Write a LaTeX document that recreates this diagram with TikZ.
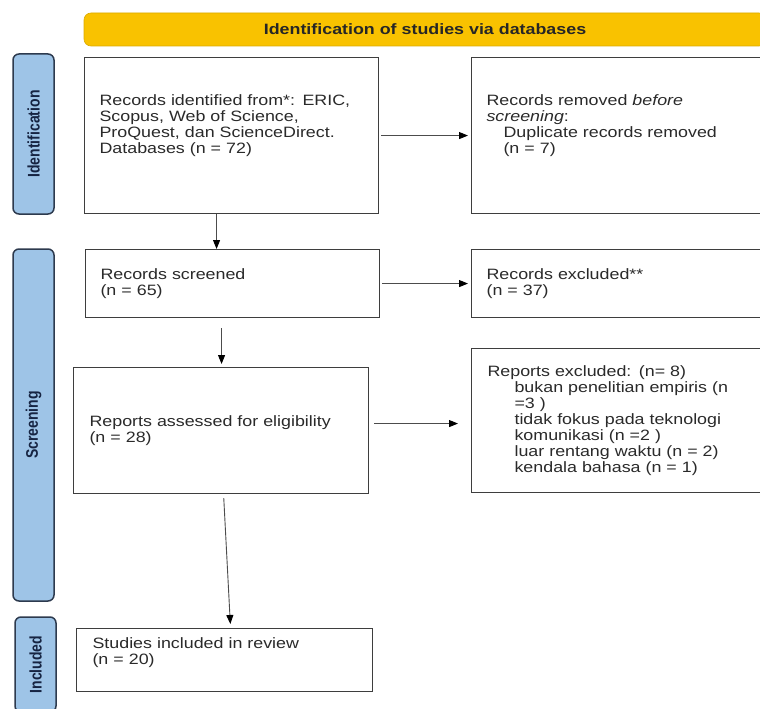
\documentclass[tikz,border=0pt]{standalone}
\usepackage{fontspec}
\newfontfamily\prismafont[FakeStretch=1.19]{Liberation Sans}
\newfontfamily\sidefont{Liberation Sans}
\usetikzlibrary{arrows.meta,
                positioning
            }
\definecolor{bannerfill}{RGB}{249,194,0}
\definecolor{sidefill}{RGB}{158,196,231}
\definecolor{sideline}{RGB}{45,58,78}
\definecolor{boxline}{RGB}{62,62,62}
\definecolor{bodytext}{RGB}{42,42,42}
\definecolor{sidetext}{RGB}{22,36,66}

\newcommand{\phaselabel}[1]{\scalebox{1}[1.2]{#1}}

\tikzset{
    recbox/.style={draw=boxline, line width=1.1pt, fill=white, anchor=north west,
                   align=left, inner xsep=15pt, inner ysep=0pt, text=bodytext,
                   font=\prismafont\fontsize{15}{16}\selectfont},
    phase/.style={draw=sideline, line width=1.5pt, fill=sidefill, rounded corners=6pt,
                  rotate=90, minimum height=41pt, inner sep=0pt, text=sidetext,
                  font=\sidefont\bfseries\fontsize{14}{14}\selectfont},
    banner/.style={fill=bannerfill, draw=bannerfill!88!black, line width=0.6pt,
                   rounded corners=7pt, minimum height=33pt, minimum width=682pt,
                   text=black!85, font=\prismafont\bfseries\fontsize{15}{15}\selectfont},
    flow/.style={draw=black!70, line width=0.9pt,
                 -{Triangle[length=9pt, width=7pt, color=black]}}
}

\begin{document}
\begin{tikzpicture}[x=1pt, y=-1pt]
            \useasboundingbox (0, 0) rectangle (760, 709);
            \clip (0, 0) rectangle (760, 709);
            \fill[white] (0, 0) rectangle (760, 709);

            \node[banner] (head) at (425, 29.5) {Identification of studies via databases};

            \node[phase, minimum width=160pt] (sidA) at (33.5, 134) {\phaselabel{Identification}};
            \node[phase, minimum width=352pt] (sidB) at (33.5, 425) {\phaselabel{Screening}};
            \node[phase, minimum width=95pt] (sidC) at (35.5, 664.5) {\phaselabel{Included}};

            \node[recbox, minimum width=294pt, minimum height=156pt, text width=264pt, text depth=71pt] (idf) at (84, 57)
                {Records identified from*: ERIC,\\ Scopus, Web of Science,\\ ProQuest, dan ScienceDirect.\\ Databases (n = 72)};
            \node[recbox, minimum width=300pt, minimum height=156pt, text width=270pt, text depth=71pt, inner xsep=14pt] (rem) at (471, 57)
                {Records removed \textit{before}\\ \textit{screening}:\\ \hspace*{17pt}Duplicate records removed\\ \hspace*{17pt}(n = 7)};

            \node[recbox, minimum width=294pt, minimum height=68pt, text width=264pt] (scr) at (85, 249)
                {Records screened\\ (n = 65)};
            \node[recbox, minimum width=300pt, minimum height=68pt, text width=270pt] (exc) at (471, 249)
                {Records excluded**\\ (n = 37)};

            \node[recbox, minimum width=295pt, minimum height=126pt, text width=263pt, inner xsep=16pt] (asm) at (73, 367)
                {Reports assessed for eligibility\\ (n = 28)};
            \node[recbox, minimum width=300pt, minimum height=144pt, text width=268pt, inner xsep=16pt] (rpx) at (471, 348)
                {Reports excluded: (n= 8)\\
                 \hspace*{27pt}bukan penelitian empiris (n\\
                 \hspace*{27pt}=3 )\\
                 \hspace*{27pt}tidak fokus pada teknologi\\
                 \hspace*{27pt}komunikasi (n =2 )\\
                 \hspace*{27pt}luar rentang waktu (n = 2)\\
                 \hspace*{27pt}kendala bahasa (n = 1)};

            \node[recbox, minimum width=296pt, minimum height=63pt, text width=264pt, text depth=33pt, inner xsep=16pt] (inc) at (76, 628)
                {Studies included in review\\ (n = 20)};

            \draw[flow, shorten <=2pt, shorten >=3pt] (idf.east) -- (rem.west);
            \draw[flow] ([xshift=-15pt]idf.south) -- ([xshift=-15pt]idf.south |- scr.north);
            \draw[flow, shorten <=2pt, shorten >=3pt] (scr.east) -- (exc.west);
            \draw[flow, shorten <=10pt, shorten >=3pt] ([xshift=-11pt]scr.south) -- ([xshift=-11pt]scr.south |- asm.north);
            \draw[flow, shorten <=5pt, shorten >=13pt] ([yshift=7pt]asm.east) -- ([yshift=7pt]asm.east -| rpx.west);
            \draw[flow, shorten <=4pt, shorten >=4pt] ([xshift=2.5pt]asm.south) -- ([xshift=6pt]inc.north);
        \end{tikzpicture}
\end{document}
